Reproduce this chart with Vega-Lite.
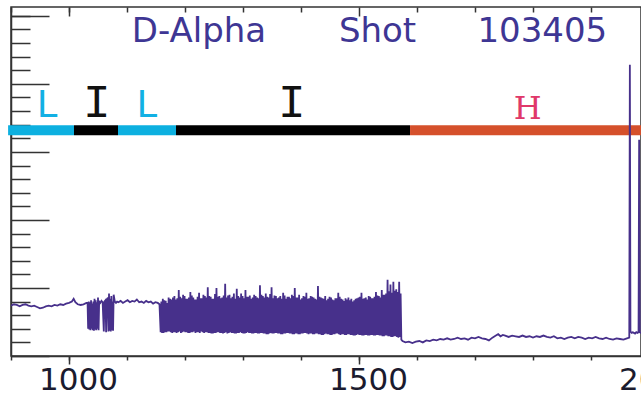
{
  "$schema": "https://vega.github.io/schema/vega-lite/v6.json",
  "width": 630,
  "height": 349,
  "autosize": {"type": "none"},
  "padding": {"left": 11, "top": 7, "right": 0, "bottom": 40},
  "background": "white",
  "config": {
    "view": {"stroke": "#333333", "strokeWidth": 1.5},
    "axis": {"grid": false, "domainColor": "#333333", "tickColor": "#333333", "domainWidth": 1.5, "tickWidth": 1.5, "title": null}
  },
  "datasets": {
    "bars": [
      {"start": 895, "end": 1008.6, "phase": "L"},
      {"start": 1008.6, "end": 1084.5, "phase": "I"},
      {"start": 1084.5, "end": 1184.5, "phase": "L"},
      {"start": 1184.5, "end": 1588, "phase": "I"},
      {"start": 1588, "end": 2000, "phase": "H"}
    ],
    "lLabels": [{"t": 962, "lab": "L"}, {"t": 1134, "lab": "L"}],
    "iLabels": [{"t": 1048, "lab": "I"}, {"t": 1384, "lab": "I"}],
    "hLabels": [{"t": 1791, "lab": "H"}],
    "title": [{"t": 1224, "w": "D-Alpha"}, {"t": 1532, "w": "Shot"}, {"t": 1816, "w": "103405"}],
    "signal": [
      {"t":900,"v":0.74},{"t":905,"v":0.76},{"t":910,"v":0.75},{"t":915,"v":0.73},{"t":920,"v":0.75},{"t":925,"v":0.76},{"t":930,"v":0.74},{"t":935,"v":0.73},{"t":940,"v":0.74},{"t":945,"v":0.72},{"t":950,"v":0.70},{"t":955,"v":0.71},{"t":960,"v":0.73},{"t":965,"v":0.74},{"t":970,"v":0.73},{"t":975,"v":0.75},{"t":980,"v":0.74},{"t":985,"v":0.76},{"t":990,"v":0.75},{"t":995,"v":0.77},{"t":1000,"v":0.78},{"t":1005,"v":0.80},{"t":1008,"v":0.84},{"t":1011,"v":0.79},{"t":1015,"v":0.76},{"t":1020,"v":0.75},{"t":1025,"v":0.76},{"t":1030,"v":0.78},
      {"t":1032,"v":0.78},{"t":1033,"v":0.40},{"t":1034,"v":0.80},{"t":1035,"v":0.39},{"t":1036,"v":0.79},{"t":1037,"v":0.38},{"t":1038,"v":0.82},{"t":1039,"v":0.40},{"t":1040,"v":0.77},{"t":1041,"v":0.38},{"t":1042,"v":0.80},{"t":1043,"v":0.37},{"t":1044,"v":0.84},{"t":1045,"v":0.39},{"t":1046,"v":0.82},{"t":1047,"v":0.38},{"t":1048,"v":0.79},{"t":1049,"v":0.40},{"t":1050,"v":0.86},{"t":1051,"v":0.38},{"t":1052,"v":0.80},{"t":1054,"v":0.78},{"t":1056,"v":0.81},{"t":1058,"v":0.79},{"t":1060,"v":0.36},{"t":1061,"v":0.80},{"t":1063,"v":0.82},{"t":1064,"v":0.35},{"t":1065,"v":0.80},{"t":1067,"v":0.86},{"t":1068,"v":0.36},{"t":1069,"v":0.92},{"t":1070,"v":0.37},{"t":1071,"v":0.84},{"t":1072,"v":0.36},{"t":1073,"v":0.88},{"t":1074,"v":0.38},{"t":1075,"v":0.80},{"t":1076,"v":0.37},{"t":1077,"v":0.90},{"t":1079,"v":0.80},{"t":1081,"v":0.78},{"t":1083,"v":0.80},
      {"t":1085,"v":0.79},{"t":1089,"v":0.81},{"t":1093,"v":0.78},{"t":1097,"v":0.80},{"t":1101,"v":0.82},{"t":1105,"v":0.79},{"t":1109,"v":0.81},{"t":1113,"v":0.80},{"t":1117,"v":0.83},{"t":1121,"v":0.79},{"t":1125,"v":0.80},{"t":1129,"v":0.78},{"t":1133,"v":0.81},{"t":1137,"v":0.79},{"t":1141,"v":0.80},{"t":1145,"v":0.77},{"t":1149,"v":0.79},{"t":1153,"v":0.78},{"t":1156,"v":0.76},
      {"t":1158,"v":0.35},{"t":1159.25,"v":0.80},{"t":1160.5,"v":0.34},{"t":1161.75,"v":0.84},
      {"t":1163,"v":0.34},{"t":1164.25,"v":0.82},{"t":1165.5,"v":0.35},{"t":1166.75,"v":0.81},
      {"t":1168,"v":0.35},{"t":1169.25,"v":0.78},{"t":1170.5,"v":0.36},{"t":1171.75,"v":0.86},
      {"t":1173,"v":0.36},{"t":1174.25,"v":0.84},{"t":1175.5,"v":0.35},{"t":1176.75,"v":0.83},
      {"t":1178,"v":0.34},{"t":1179.25,"v":0.86},{"t":1180.5,"v":0.35},{"t":1181.75,"v":0.88},
      {"t":1183,"v":0.35},{"t":1184.25,"v":0.83},{"t":1185.5,"v":0.34},{"t":1186.75,"v":0.85},
      {"t":1188,"v":0.35},{"t":1189.25,"v":0.97},{"t":1190.5,"v":0.36},{"t":1191.75,"v":0.87},
      {"t":1193,"v":0.34},{"t":1194.25,"v":0.85},{"t":1195.5,"v":0.35},{"t":1196.75,"v":0.90},
      {"t":1198,"v":0.36},{"t":1199.25,"v":0.88},{"t":1200.5,"v":0.35},{"t":1201.75,"v":0.84},
      {"t":1203,"v":0.35},{"t":1204.25,"v":0.84},{"t":1205.5,"v":0.34},{"t":1206.75,"v":0.86},
      {"t":1208,"v":0.34},{"t":1209.25,"v":0.94},{"t":1210.5,"v":0.35},{"t":1211.75,"v":0.89},
      {"t":1213,"v":0.35},{"t":1214.25,"v":0.86},{"t":1215.5,"v":0.36},{"t":1216.75,"v":0.83},
      {"t":1218,"v":0.34},{"t":1219.25,"v":0.83},{"t":1220.5,"v":0.35},{"t":1221.75,"v":0.87},
      {"t":1223,"v":0.35},{"t":1224.25,"v":0.93},{"t":1225.5,"v":0.34},{"t":1226.75,"v":0.85},
      {"t":1228,"v":0.36},{"t":1229.25,"v":0.85},{"t":1230.5,"v":0.35},{"t":1231.75,"v":0.90},
      {"t":1233,"v":0.34},{"t":1234.25,"v":0.88},{"t":1235.5,"v":0.35},{"t":1236.75,"v":0.86},
      {"t":1238,"v":0.35},{"t":1239.25,"v":1.01},{"t":1240.5,"v":0.34},{"t":1241.75,"v":0.88},
      {"t":1243,"v":0.34},{"t":1244.25,"v":0.87},{"t":1245.5,"v":0.33},{"t":1246.75,"v":0.84},
      {"t":1248,"v":0.33},{"t":1249.25,"v":0.84},{"t":1250.5,"v":0.34},{"t":1251.75,"v":0.91},
      {"t":1253,"v":0.34},{"t":1254.25,"v":1.00},{"t":1255.5,"v":0.35},{"t":1256.75,"v":0.87},
      {"t":1258,"v":0.35},{"t":1259.25,"v":0.88},{"t":1260.5,"v":0.34},{"t":1261.75,"v":0.85},
      {"t":1263,"v":0.34},{"t":1264.25,"v":0.86},{"t":1265.5,"v":0.33},{"t":1266.75,"v":0.89},
      {"t":1268,"v":0.34},{"t":1269.25,"v":1.06},{"t":1270.5,"v":0.35},{"t":1271.75,"v":0.86},
      {"t":1273,"v":0.33},{"t":1274.25,"v":0.89},{"t":1275.5,"v":0.34},{"t":1276.75,"v":0.90},
      {"t":1278,"v":0.35},{"t":1279.25,"v":0.85},{"t":1280.5,"v":0.34},{"t":1281.75,"v":0.87},
      {"t":1283,"v":0.34},{"t":1284.25,"v":0.92},{"t":1285.5,"v":0.33},{"t":1286.75,"v":0.84},
      {"t":1288,"v":0.33},{"t":1289.25,"v":0.99},{"t":1290.5,"v":0.34},{"t":1291.75,"v":0.88},
      {"t":1293,"v":0.34},{"t":1294.25,"v":0.86},{"t":1295.5,"v":0.35},{"t":1296.75,"v":0.92},
      {"t":1298,"v":0.34},{"t":1299.25,"v":0.88},{"t":1300.5,"v":0.33},{"t":1301.75,"v":0.85},
      {"t":1303,"v":0.33},{"t":1304.25,"v":0.97},{"t":1305.5,"v":0.34},{"t":1306.75,"v":0.87},
      {"t":1308,"v":0.35},{"t":1309.25,"v":0.87},{"t":1310.5,"v":0.34},{"t":1311.75,"v":0.89},
      {"t":1313,"v":0.34},{"t":1314.25,"v":0.84},{"t":1315.5,"v":0.33},{"t":1316.75,"v":0.86},
      {"t":1318,"v":0.33},{"t":1319.25,"v":0.90},{"t":1320.5,"v":0.34},{"t":1321.75,"v":0.88},
      {"t":1323,"v":0.34},{"t":1324.25,"v":0.86},{"t":1325.5,"v":0.33},{"t":1326.75,"v":0.85},
      {"t":1328,"v":0.33},{"t":1329.25,"v":1.04},{"t":1330.5,"v":0.34},{"t":1331.75,"v":0.90},
      {"t":1333,"v":0.34},{"t":1334.25,"v":0.88},{"t":1335.5,"v":0.33},{"t":1336.75,"v":0.86},
      {"t":1338,"v":0.33},{"t":1339.25,"v":0.92},{"t":1340.5,"v":0.32},{"t":1341.75,"v":0.87},
      {"t":1343,"v":0.32},{"t":1344.25,"v":0.86},{"t":1345.5,"v":0.33},{"t":1346.75,"v":0.91},
      {"t":1348,"v":0.34},{"t":1349.25,"v":1.01},{"t":1350.5,"v":0.33},{"t":1351.75,"v":0.85},
      {"t":1353,"v":0.33},{"t":1354.25,"v":0.89},{"t":1355.5,"v":0.34},{"t":1356.75,"v":0.88},
      {"t":1358,"v":0.34},{"t":1359.25,"v":0.85},{"t":1360.5,"v":0.33},{"t":1361.75,"v":0.86},
      {"t":1363,"v":0.33},{"t":1364.25,"v":0.88},{"t":1365.5,"v":0.32},{"t":1366.75,"v":0.84},
      {"t":1368,"v":0.32},{"t":1369.25,"v":0.93},{"t":1370.5,"v":0.33},{"t":1371.75,"v":0.89},
      {"t":1373,"v":0.33},{"t":1374.25,"v":0.84},{"t":1375.5,"v":0.34},{"t":1376.75,"v":0.87},
      {"t":1378,"v":0.34},{"t":1379.25,"v":0.87},{"t":1380.5,"v":0.33},{"t":1381.75,"v":0.85},
      {"t":1383,"v":0.33},{"t":1384.25,"v":0.90},{"t":1385.5,"v":0.32},{"t":1386.75,"v":0.88},
      {"t":1388,"v":0.32},{"t":1389.25,"v":1.00},{"t":1390.5,"v":0.33},{"t":1391.75,"v":0.86},
      {"t":1393,"v":0.33},{"t":1394.25,"v":0.86},{"t":1395.5,"v":0.32},{"t":1396.75,"v":0.90},
      {"t":1398,"v":0.32},{"t":1399.25,"v":0.83},{"t":1400.5,"v":0.33},{"t":1401.75,"v":0.85},
      {"t":1403,"v":0.33},{"t":1404.25,"v":0.88},{"t":1405.5,"v":0.34},{"t":1406.75,"v":0.87},
      {"t":1408,"v":0.34},{"t":1409.25,"v":0.93},{"t":1410.5,"v":0.33},{"t":1411.75,"v":0.84},
      {"t":1413,"v":0.32},{"t":1414.25,"v":0.85},{"t":1415.5,"v":0.33},{"t":1416.75,"v":0.88},
      {"t":1418,"v":0.33},{"t":1419.25,"v":0.87},{"t":1420.5,"v":0.32},{"t":1421.75,"v":0.86},
      {"t":1423,"v":0.32},{"t":1424.25,"v":0.84},{"t":1425.5,"v":0.33},{"t":1426.75,"v":0.83},
      {"t":1428,"v":0.33},{"t":1429.25,"v":1.03},{"t":1430.5,"v":0.32},{"t":1431.75,"v":0.87},
      {"t":1433,"v":0.32},{"t":1434.25,"v":0.86},{"t":1435.5,"v":0.31},{"t":1436.75,"v":0.85},
      {"t":1438,"v":0.31},{"t":1439.25,"v":0.84},{"t":1440.5,"v":0.32},{"t":1441.75,"v":0.88},
      {"t":1443,"v":0.33},{"t":1444.25,"v":0.82},{"t":1445.5,"v":0.32},{"t":1446.75,"v":0.84},
      {"t":1448,"v":0.32},{"t":1449.25,"v":0.87},{"t":1450.5,"v":0.31},{"t":1451.75,"v":0.86},
      {"t":1453,"v":0.31},{"t":1454.25,"v":0.83},{"t":1455.5,"v":0.32},{"t":1456.75,"v":0.82},
      {"t":1458,"v":0.32},{"t":1459.25,"v":0.85},{"t":1460.5,"v":0.33},{"t":1461.75,"v":0.85},
      {"t":1463,"v":0.33},{"t":1464.25,"v":0.93},{"t":1465.5,"v":0.32},{"t":1466.75,"v":0.87},
      {"t":1468,"v":0.31},{"t":1469.25,"v":0.84},{"t":1470.5,"v":0.32},{"t":1471.75,"v":0.83},
      {"t":1473,"v":0.32},{"t":1474.25,"v":0.81},{"t":1475.5,"v":0.31},{"t":1476.75,"v":0.85},
      {"t":1478,"v":0.31},{"t":1479.25,"v":0.83},{"t":1480.5,"v":0.32},{"t":1481.75,"v":0.86},
      {"t":1483,"v":0.32},{"t":1484.25,"v":0.82},{"t":1485.5,"v":0.31},{"t":1486.75,"v":0.84},
      {"t":1488,"v":0.31},{"t":1489.25,"v":0.80},{"t":1490.5,"v":0.30},{"t":1491.75,"v":0.82},
      {"t":1493,"v":0.30},{"t":1494.25,"v":0.84},{"t":1495.5,"v":0.31},{"t":1496.75,"v":0.85},
      {"t":1498,"v":0.32},{"t":1499.25,"v":0.86},{"t":1500.5,"v":0.31},{"t":1501.75,"v":0.87},
      {"t":1503,"v":0.31},{"t":1504.25,"v":0.93},{"t":1505.5,"v":0.30},{"t":1506.75,"v":0.84},
      {"t":1508,"v":0.30},{"t":1509.25,"v":0.85},{"t":1510.5,"v":0.31},{"t":1511.75,"v":0.86},
      {"t":1513,"v":0.31},{"t":1514.25,"v":0.83},{"t":1515.5,"v":0.30},{"t":1516.75,"v":0.88},
      {"t":1518,"v":0.30},{"t":1519.25,"v":0.87},{"t":1520.5,"v":0.31},{"t":1521.75,"v":0.85},
      {"t":1523,"v":0.31},{"t":1524.25,"v":0.85},{"t":1525.5,"v":0.30},{"t":1526.75,"v":0.87},
      {"t":1528,"v":0.30},{"t":1529.25,"v":0.94},{"t":1530.5,"v":0.31},{"t":1531.75,"v":0.89},
      {"t":1533,"v":0.31},{"t":1534.25,"v":0.88},{"t":1535.5,"v":0.30},{"t":1536.75,"v":0.86},
      {"t":1538,"v":0.30},{"t":1539.25,"v":0.97},{"t":1540.5,"v":0.29},{"t":1541.75,"v":0.90},
      {"t":1543,"v":0.29},{"t":1544.25,"v":0.90},{"t":1545.5,"v":0.30},{"t":1546.75,"v":0.92},
      {"t":1548,"v":0.30},{"t":1549.25,"v":1.12},{"t":1550.5,"v":0.29},{"t":1551.75,"v":0.95},
      {"t":1553,"v":0.29},{"t":1554.25,"v":1.05},{"t":1555.5,"v":0.28},{"t":1556.75,"v":0.93},
      {"t":1558,"v":0.28},{"t":1559.25,"v":1.09},{"t":1560.5,"v":0.29},{"t":1561.75,"v":0.96},
      {"t":1563,"v":0.29},{"t":1564.25,"v":0.98},{"t":1565.5,"v":0.28},{"t":1566.75,"v":0.94},
      {"t":1568,"v":0.27},{"t":1569.25,"v":1.09},{"t":1570.5,"v":0.28},{"t":1571.75,"v":0.92},
      {"t":1573,"v":0.24},
      {"t":1575,"v":0.22},{"t":1580,"v":0.20},{"t":1586,"v":0.21},{"t":1592,"v":0.19},{"t":1598,"v":0.21},{"t":1604,"v":0.22},{"t":1610,"v":0.20},{"t":1616,"v":0.23},{"t":1622,"v":0.22},{"t":1628,"v":0.24},{"t":1634,"v":0.23},{"t":1640,"v":0.25},{"t":1646,"v":0.24},{"t":1652,"v":0.26},{"t":1658,"v":0.24},{"t":1664,"v":0.25},{"t":1670,"v":0.27},{"t":1676,"v":0.25},{"t":1682,"v":0.26},{"t":1688,"v":0.24},{"t":1694,"v":0.27},{"t":1700,"v":0.26},{"t":1706,"v":0.28},{"t":1712,"v":0.26},{"t":1718,"v":0.25},{"t":1724,"v":0.23},{"t":1730,"v":0.27},{"t":1736,"v":0.30},{"t":1740,"v":0.32},{"t":1744,"v":0.29},{"t":1748,"v":0.31},{"t":1752,"v":0.30},{"t":1758,"v":0.28},{"t":1764,"v":0.30},{"t":1770,"v":0.29},{"t":1776,"v":0.28},{"t":1782,"v":0.30},{"t":1788,"v":0.28},{"t":1794,"v":0.29},{"t":1800,"v":0.27},{"t":1806,"v":0.29},{"t":1812,"v":0.28},{"t":1818,"v":0.30},{"t":1824,"v":0.28},{"t":1830,"v":0.27},{"t":1836,"v":0.29},{"t":1842,"v":0.26},{"t":1848,"v":0.27},{"t":1854,"v":0.25},{"t":1860,"v":0.27},{"t":1866,"v":0.28},{"t":1872,"v":0.26},{"t":1878,"v":0.28},{"t":1884,"v":0.27},{"t":1890,"v":0.25},{"t":1896,"v":0.27},{"t":1902,"v":0.26},{"t":1908,"v":0.28},{"t":1914,"v":0.26},{"t":1920,"v":0.25},{"t":1926,"v":0.27},{"t":1932,"v":0.25},{"t":1938,"v":0.24},{"t":1944,"v":0.26},{"t":1950,"v":0.25},{"t":1956,"v":0.24},{"t":1962,"v":0.26},
      {"t":1966,"v":0.27},{"t":1967,"v":4.28},{"t":1968,"v":0.36},{"t":1970,"v":0.34},{"t":1972,"v":0.35},{"t":1974,"v":0.34},{"t":1976,"v":0.33},{"t":1978,"v":0.35},{"t":1980,"v":0.34},{"t":1982,"v":0.35},{"t":1983,"v":3.18},{"t":1984,"v":0.35},{"t":1986,"v":0.34},{"t":1990,"v":0.34}
    ]
  },
  "layer": [
    {
      "data": {"name": "bars"},
      "mark": {"type": "rule", "strokeWidth": 10, "strokeCap": "butt", "clip": false},
      "encoding": {
        "x": {"field": "start", "type": "quantitative", "scale": {"domain": [900, 2000], "range": [0, 638], "nice": false, "zero": false},
              "axis": {"orient": "bottom", "values": [900,1000,1100,1200,1300,1400,1500,1600,1700,1800,1900], "tickSize": 4, "labels": false, "domain": false}},
        "x2": {"field": "end"},
        "y": {"datum": 3.32, "type": "quantitative", "scale": {"domain": [0, 5.13], "nice": false, "zero": false},
              "axis": {"orient": "left", "values": [0.2,0.4,0.6,0.8,1.2,1.4,1.6,1.8,2.2,2.4,2.6,2.8,3.2,3.4,3.6,3.8,4.2,4.4,4.6,4.8,5.0], "tickSize": -19, "labels": false, "domain": false}},
        "color": {"field": "phase", "type": "nominal", "scale": {"domain": ["L", "I", "H"], "range": ["#0db0e0", "#000000", "#d5502b"]}, "legend": null}
      }
    },
    {
      "data": {"name": "lLabels"},
      "mark": {"type": "text", "font": "DejaVu Sans", "fontSize": 37, "color": "#12b0e4", "align": "center", "baseline": "alphabetic"},
      "encoding": {
        "x": {"field": "t", "type": "quantitative", "scale": {"domain": [900, 2000], "range": [0, 638], "nice": false, "zero": false},
              "axis": {"orient": "top", "values": [900,1000,1100,1200,1300,1400,1600,1700,1800,1900], "tickSize": -5, "labels": false, "domain": false}},
        "y": {"datum": 3.51, "type": "quantitative", "scale": {"domain": [0, 5.13], "nice": false, "zero": false}, "axis": null},
        "text": {"field": "lab"}
      }
    },
    {
      "data": {"name": "iLabels"},
      "mark": {"type": "text", "font": "Liberation Mono", "fontSize": 46, "color": "#111111", "align": "center", "baseline": "alphabetic"},
      "encoding": {
        "x": {"field": "t", "type": "quantitative", "scale": {"domain": [900, 2000], "range": [0, 638], "nice": false, "zero": false}, "axis": null},
        "y": {"datum": 3.51, "type": "quantitative", "scale": {"domain": [0, 5.13], "nice": false, "zero": false}, "axis": null},
        "text": {"field": "lab"}
      }
    },
    {
      "data": {"name": "hLabels"},
      "mark": {"type": "text", "font": "DejaVu Serif", "fontSize": 32, "color": "#e0386a", "align": "center", "baseline": "alphabetic"},
      "encoding": {
        "x": {"field": "t", "type": "quantitative", "scale": {"domain": [900, 2000], "range": [0, 638], "nice": false, "zero": false}, "axis": null},
        "y": {"datum": 3.49, "type": "quantitative", "scale": {"domain": [0, 5.13], "nice": false, "zero": false}, "axis": null},
        "text": {"field": "lab"}
      }
    },
    {
      "data": {"name": "title"},
      "mark": {"type": "text", "font": "DejaVu Sans", "fontSize": 34, "color": "#3e3694", "align": "center", "baseline": "alphabetic"},
      "encoding": {
        "x": {"field": "t", "type": "quantitative", "scale": {"domain": [900, 2000], "range": [0, 638], "nice": false, "zero": false},
              "axis": {"orient": "top", "values": [1000, 1500], "tickSize": -9, "labels": false, "domain": false}},
        "y": {"datum": 4.62, "type": "quantitative", "scale": {"domain": [0, 5.13], "nice": false, "zero": false}, "axis": null},
        "text": {"field": "w"}
      }
    },
    {
      "data": {"name": "signal"},
      "mark": {"type": "line", "color": "#47308b", "strokeWidth": 1.8, "clip": true},
      "encoding": {
        "x": {"field": "t", "type": "quantitative", "scale": {"domain": [900, 2000], "range": [0, 638], "nice": false, "zero": false},
              "axis": {"orient": "bottom", "values": [1000, 1500, 2000], "format": "d", "tickSize": 8, "labelFont": "DejaVu Sans", "labelFontSize": 31, "labelColor": "#1b1b2e", "labelOffset": 9, "labelPadding": 1, "labelFlush": false, "labelOverlap": false, "domain": true}},
        "y": {"field": "v", "type": "quantitative", "scale": {"domain": [0, 5.13], "nice": false, "zero": false},
              "axis": {"orient": "left", "values": [0, 1, 2, 3, 4, 5], "tickSize": -38, "labels": false, "domain": true}}
      }
    }
  ],
  "resolve": {"axis": {"x": "independent", "y": "independent"}, "scale": {"color": "independent"}}
}
